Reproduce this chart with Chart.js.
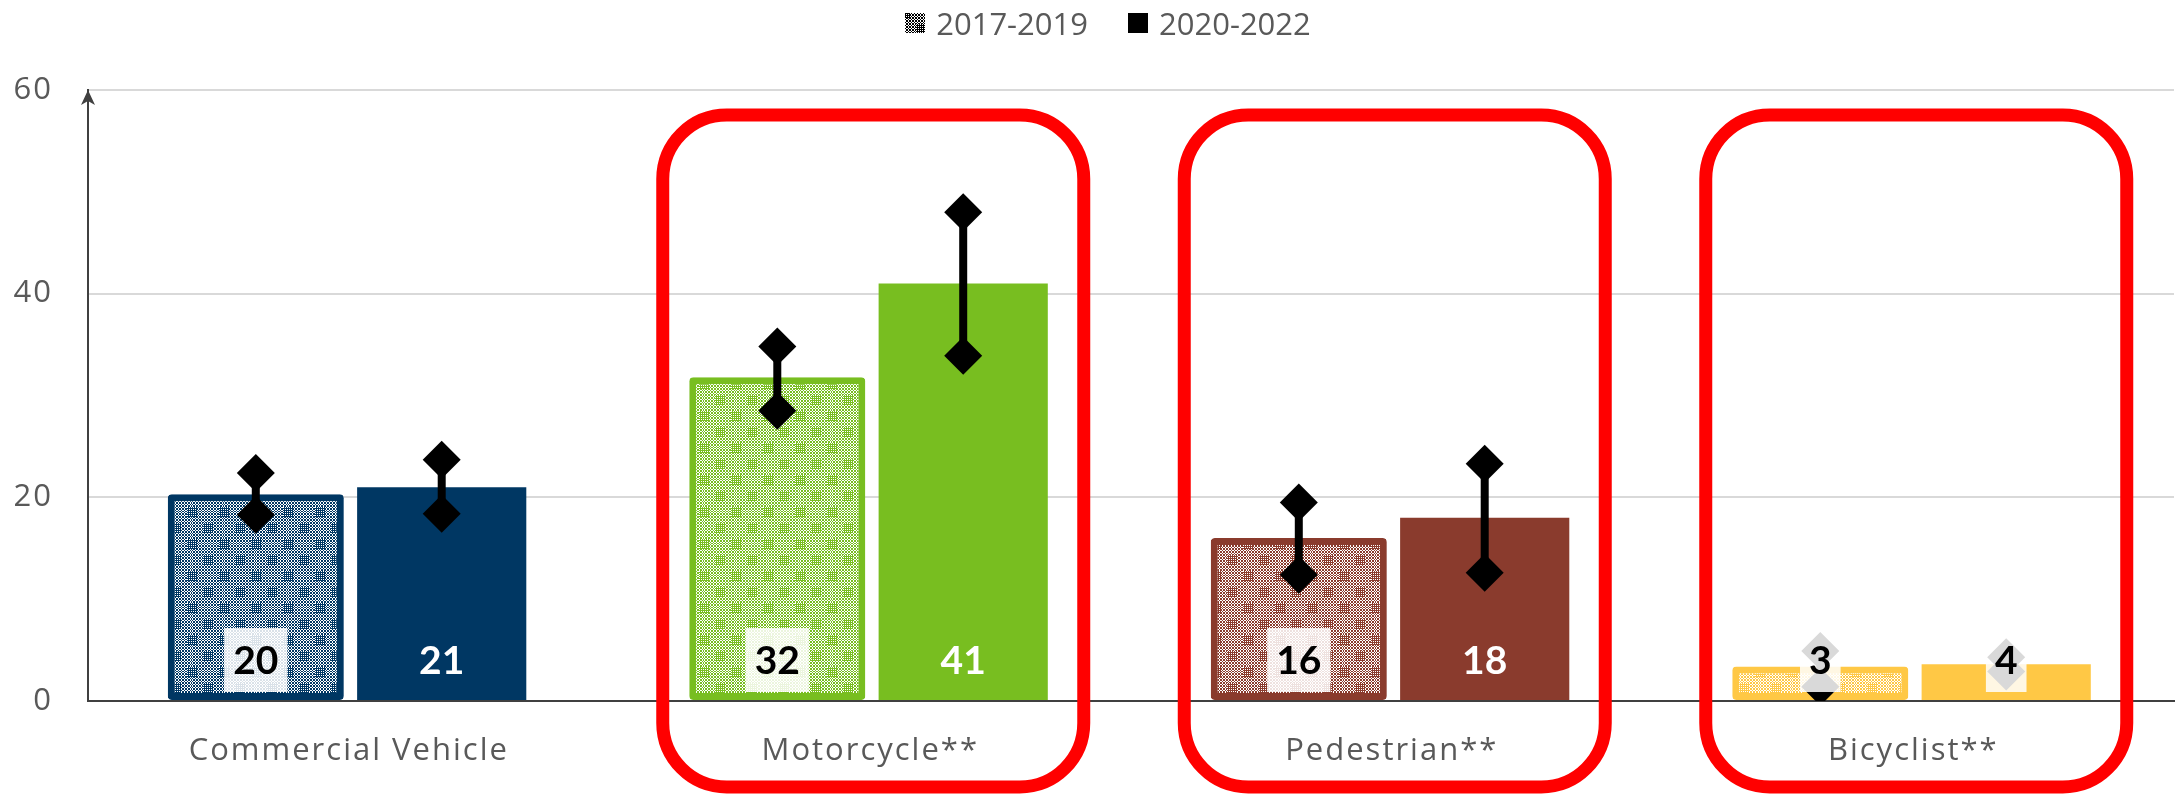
<!DOCTYPE html>
<html><head><meta charset="utf-8">
<script src="https://cdn.jsdelivr.net/npm/chart.js@4.4.1/dist/chart.umd.min.js"></script>
<style>
html,body{margin:0;padding:0;background:#fff;}
#wrap{position:relative;width:2178px;height:801px;overflow:hidden;}
#c{position:absolute;top:0;left:0;}
#legend{position:absolute;top:0;left:38px;right:0;height:46px;display:flex;justify-content:center;align-items:center;font-family:'Open Sans';font-size:31px;color:#595959;gap:40px;}
.item{display:flex;align-items:center;white-space:nowrap;}
.sw{width:20px;height:20px;margin-right:11px;display:block;}
</style></head>
<body><div id="wrap"><canvas id="c" width="2178" height="801"></canvas><div id="legend"></div></div>
<script>
// ---------- data ----------
const categories = ['Commercial Vehicle', 'Motorcycle**', 'Pedestrian**', 'Bicyclist**'];
const seriesNames = ['2017-2019', '2020-2022'];
const values2017 = [20.3, 31.8, 16.0, 3.4];
const values2020 = [21.0, 41.0, 18.0, 3.6];
const labels2017 = [20, 32, 16, 3];
const labels2020 = [21, 41, 18, 4];
const low2017  = [18.3, 28.5, 12.4, 1.4];
const high2017 = [22.4, 34.8, 19.5, 4.9];
const low2020  = [18.4, 33.9, 12.6, 2.9];
const high2020 = [23.7, 48.0, 23.3, 4.3];
const yTicks = [0, 20, 40, 60];
const categoryColors = ['#003763', '#78BE20', '#8A3B2D', '#FFC845'];
const highlighted = [false, true, true, true];

// ---------- pattern ----------
function makePatternCanvas(color) {
  const c = document.createElement('canvas'); c.width = 32; c.height = 32;
  const g = c.getContext('2d');
  g.fillStyle = '#fff'; g.fillRect(0, 0, 32, 32);
  g.fillStyle = color;
  for (let y = 0; y < 32; y++) for (let x = 0; x < 32; x++) {
    const inBlock = (x >= 11 && x <= 20 && y >= 11 && y <= 20) || ((x <= 4 || x >= 27) && (y <= 4 || y >= 27));
    let on = ((x + y) % 3 === 0) || ((((x - y) % 3) + 3) % 3 === 0);
    if (inBlock) on = (x % 2 === 0) || (y % 2 === 0);
    if (on) g.fillRect(x, y, 1, 1);
  }
  return c;
}
const ctx0 = document.getElementById('c').getContext('2d');
const patterns = categoryColors.map(col => ctx0.createPattern(makePatternCanvas(col), 'repeat'));

// ---------- legend (HTML) ----------
(function () {
  const lg = document.getElementById('legend');
  seriesNames.forEach((name, i) => {
    const it = document.createElement('div'); it.className = 'item';
    const sw = document.createElement('canvas'); sw.width = 20; sw.height = 20; sw.className = 'sw';
    const g = sw.getContext('2d');
    if (i === 0) { g.fillStyle = g.createPattern(makePatternCanvas('#000'), 'repeat'); }
    else { g.fillStyle = '#000'; }
    g.fillRect(0, 0, 20, 20);
    const tx = document.createElement('span'); tx.textContent = name;
    it.appendChild(sw); it.appendChild(tx); lg.appendChild(it);
  });
})();

function diamond(ctx, x, y, r) {
  ctx.beginPath();
  ctx.moveTo(x, y - r); ctx.lineTo(x + r, y); ctx.lineTo(x, y + r); ctx.lineTo(x - r, y);
  ctx.closePath(); ctx.fill();
}

const overlay = {
  id: 'overlay',
  beforeDraw(chart) { chart.ctx.letterSpacing = '2px'; },
  beforeDatasetsDraw(chart) { chart.ctx.letterSpacing = '0px'; },
  afterDatasetsDraw(chart) {
    const { ctx, chartArea, scales: { y } } = chart;
    const axisY = y.getPixelForValue(0);
    // error bars
    ctx.save();
    ctx.beginPath();
    ctx.rect(chartArea.left, chartArea.top - 40, chartArea.right - chartArea.left, chartArea.bottom - chartArea.top + 40);
    ctx.clip();
    ctx.fillStyle = '#000'; ctx.strokeStyle = '#000'; ctx.lineWidth = 8;
    [[low2017, high2017], [low2020, high2020]].forEach(([lo, hi], di) => {
      chart.getDatasetMeta(di).data.forEach((bar, i) => {
        const yl = y.getPixelForValue(lo[i]), yh = y.getPixelForValue(hi[i]);
        ctx.beginPath(); ctx.moveTo(bar.x, yl); ctx.lineTo(bar.x, yh); ctx.stroke();
        diamond(ctx, bar.x, yl, 19); diamond(ctx, bar.x, yh, 19);
      });
    });
    ctx.restore();
    // data labels
    ctx.save();
    ctx.font = 'bold 39px Lato';
    ctx.textAlign = 'center'; ctx.textBaseline = 'middle';
    [[labels2017, values2017], [labels2020, values2020]].forEach(([lab, val], di) => {
      chart.getDatasetMeta(di).data.forEach((bar, i) => {
        const t = String(lab[i]);
        const tw = ctx.measureText(t).width;
        const dark = di === 0 || val[i] < 6;
        if (dark) {
          ctx.fillStyle = 'rgba(255,255,255,0.85)';
          ctx.fillRect(bar.x - tw / 2 - 9, axisY - 9 - 64, tw + 18, 64);
        }
        ctx.fillStyle = dark ? '#000' : '#fff';
        ctx.fillText(t, bar.x, axisY - 40);
      });
    });
    ctx.restore();
  },
  afterDraw(chart) {
    const { ctx, chartArea, scales: { x } } = chart;
    // arrow on y axis
    ctx.save();
    ctx.fillStyle = '#404040';
    const ax = chartArea.left, at = chartArea.top;
    ctx.beginPath();
    ctx.moveTo(ax, at); ctx.lineTo(ax + 7, at + 15); ctx.lineTo(ax, at + 11); ctx.lineTo(ax - 7, at + 15);
    ctx.closePath(); ctx.fill();
    // red highlight boxes
    ctx.strokeStyle = '#FF0000'; ctx.lineWidth = 13;
    categories.forEach((c, i) => {
      if (!highlighted[i]) return;
      const cx = x.getPixelForValue(i) + 3;
      const top = chartArea.top + 25, bottom = chartArea.bottom + 86;
      ctx.beginPath();
      ctx.roundRect(cx - 210.5, top, 421, bottom - top, 64);
      ctx.stroke();
    });
    ctx.restore();
  }
};

Chart.defaults.font.family = 'Open Sans';
new Chart(document.getElementById('c'), {
  type: 'bar',
  data: {
    labels: categories,
    datasets: [
      { label: seriesNames[0], data: values2017, backgroundColor: patterns, borderColor: categoryColors,
        borderWidth: 7, borderRadius: 4, borderSkipped: false, barPercentage: 0.947, categoryPercentage: 0.713 },
      { label: seriesNames[1], data: values2020, backgroundColor: categoryColors, borderWidth: 0,
        barPercentage: 0.91, categoryPercentage: 0.713 }
    ]
  },
  options: {
    responsive: false, animation: false, devicePixelRatio: 1, events: [],
    layout: { padding: { top: 90, right: 4, left: 0, bottom: 0 } },
    plugins: { legend: { display: false }, tooltip: { enabled: false } },
    scales: {
      x: {
        grid: { display: false, drawTicks: false },
        border: { display: true, color: '#404040', width: 2 },
        ticks: { font: { size: 31, family: 'Open Sans' }, color: '#595959', padding: 32, autoSkip: false, maxRotation: 0 },
        afterFit: s => { s.height = 100; }
      },
      y: {
        min: 0, max: 60,
        afterBuildTicks: s => { s.ticks = yTicks.map(v => ({ value: v })); },
        grid: { color: '#D9D9D9', lineWidth: 2, drawTicks: false },
        border: { display: true, color: '#404040', width: 2 },
        ticks: { font: { size: 31, family: 'Open Sans' }, color: '#595959', padding: 35 },
        afterFit: s => { s.width = 88; }
      }
    }
  },
  plugins: [overlay]
});
</script>
</body></html>
